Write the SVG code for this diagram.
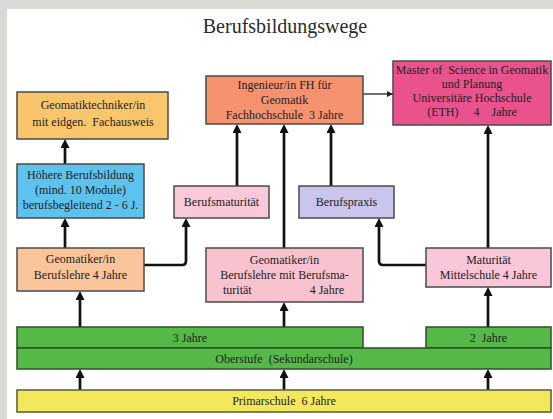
<svg xmlns="http://www.w3.org/2000/svg" width="553" height="419" viewBox="0 0 553 419">
<defs>
<style>
.box{stroke:#4a4a4a;stroke-width:1.5}
.g{stroke:#2f4f2a;stroke-width:1.5;fill:#55b948}
.t{font-family:"Liberation Serif","Times New Roman",serif;font-size:12px;fill:#222;text-anchor:middle;white-space:pre}
.c{fill:none;stroke:#111;stroke-width:2.7;marker-end:url(#ah)}
.thin{fill:none;stroke:#222;stroke-width:1.3;marker-end:url(#ahs)}
</style>
<marker id="ah" viewBox="0 0 9 9" markerWidth="9" markerHeight="9" refX="3" refY="4.5" orient="auto" markerUnits="userSpaceOnUse">
<path d="M0,0 L9,4.5 L0,9 z" fill="#111"/>
</marker>
<marker id="ahs" viewBox="0 0 6 6" markerWidth="6" markerHeight="6" refX="6" refY="3" orient="auto" markerUnits="userSpaceOnUse">
<path d="M0,0 L6,3 L0,6 z" fill="#222"/>
</marker>
</defs>
<rect width="553" height="419" fill="#d9dad6"/>
<rect x="7" y="9" width="546" height="410" fill="#ffffff"/>
<text x="285" y="33" font-family="Liberation Serif, Times New Roman, serif" font-size="20" fill="#2a2a2a" text-anchor="middle">Berufsbildungswege</text>
<g id="connectors">
<path class="c" d="M65,164 V145"/>
<path class="c" d="M65,248 V224"/>
<path class="c" d="M144,265 H182 Q186,265 186,261 V224"/>
<path class="c" d="M237,186 V130"/>
<path class="c" d="M284,248 V130"/>
<path class="c" d="M331,186 V130"/>
<path class="c" d="M426,265 H383 Q379,265 379,261 V224"/>
<path class="c" d="M488,248 V131"/>
<path class="thin" d="M363,94 H393"/>
<path class="c" d="M80,327 V297"/>
<path class="c" d="M284,327 V308"/>
<path class="c" d="M488,327 V293"/>
<path class="c" d="M80,390 V375"/>
<path class="c" d="M284,390 V375"/>
<path class="c" d="M488,390 V375"/>
</g>
<g id="techniker">
<rect class="box" x="17" y="92" width="151" height="47" fill="#f9c66c"/>
<text class="t" x="93" y="109">Geomatiktechniker/in</text>
<text class="t" x="93" y="126">mit eidgen.  Fachausweis</text>
</g>
<g id="ingenieur">
<rect class="box" x="206" y="76" width="157" height="48" fill="#f7926f"/>
<text class="t" x="284.5" y="89">Ingenieur/in FH für</text>
<text class="t" x="284.5" y="104">Geomatik</text>
<text class="t" x="284.5" y="119">Fachhochschule  3 Jahre</text>
</g>
<g id="master">
<rect class="box" x="393" y="61" width="158" height="64" fill="#e9528c"/>
<text class="t" x="472" y="74">Master of  Science in Geomatik</text>
<text class="t" x="472" y="88">und Planung</text>
<text class="t" x="472" y="102">Universitäre Hochschule</text>
<text class="t" x="472" y="116">(ETH)     4    Jahre</text>
</g>
<g id="hoehere">
<rect class="box" x="17" y="164" width="127" height="54" fill="#5dc3ee"/>
<text class="t" x="80.5" y="179">Höhere Berufsbildung</text>
<text class="t" x="80.5" y="194">(mind. 10 Module)</text>
<text class="t" x="80.5" y="209">berufsbegleitend 2 - 6 J.</text>
</g>
<g id="berufsmaturitaet">
<rect class="box" x="174" y="186" width="95" height="32" fill="#f9c9d8"/>
<text class="t" x="221.5" y="206">Berufsmaturität</text>
</g>
<g id="berufspraxis">
<rect class="box" x="299" y="186" width="95" height="32" fill="#c9c5ec"/>
<text class="t" x="346.5" y="206">Berufspraxis</text>
</g>
<g id="geomatiker">
<rect class="box" x="17" y="248" width="127" height="43" fill="#fbc59b"/>
<text class="t" x="80.5" y="263">Geomatiker/in</text>
<text class="t" x="80.5" y="279">Berufslehre 4 Jahre</text>
</g>
<g id="geomatiker-bm">
<rect class="box" x="206" y="248" width="157" height="54" fill="#f8c2cf"/>
<text class="t" x="284.5" y="264">Geomatiker/in</text>
<text class="t" x="284.5" y="279">Berufslehre mit Berufsma-</text>
<text class="t" x="223" y="294" style="text-anchor:start">turität</text>
<text class="t" x="344" y="294" style="text-anchor:end">4 Jahre</text>
</g>
<g id="maturitaet">
<rect class="box" x="426" y="248" width="125" height="39" fill="#f9c6da"/>
<text class="t" x="488.5" y="264">Maturität</text>
<text class="t" x="488.5" y="279">Mittelschule 4 Jahre</text>
</g>
<g id="drei-jahre">
<rect class="g" x="17" y="327" width="346" height="21"/>
<text class="t" x="190" y="342">3 Jahre</text>
</g>
<g id="zwei-jahre">
<rect class="g" x="426" y="327" width="125" height="21"/>
<text class="t" x="488.5" y="342">2  Jahre</text>
</g>
<g id="oberstufe">
<rect class="g" x="17" y="348" width="534" height="21"/>
<text class="t" x="284" y="363">Oberstufe  (Sekundarschule)</text>
</g>
<g id="primarschule">
<rect class="box" x="17" y="390" width="534" height="22" fill="#f3e85c" style="stroke:#5a5a3a"/>
<text class="t" x="284" y="405">Primarschule  6 Jahre</text>
</g>
</svg>
